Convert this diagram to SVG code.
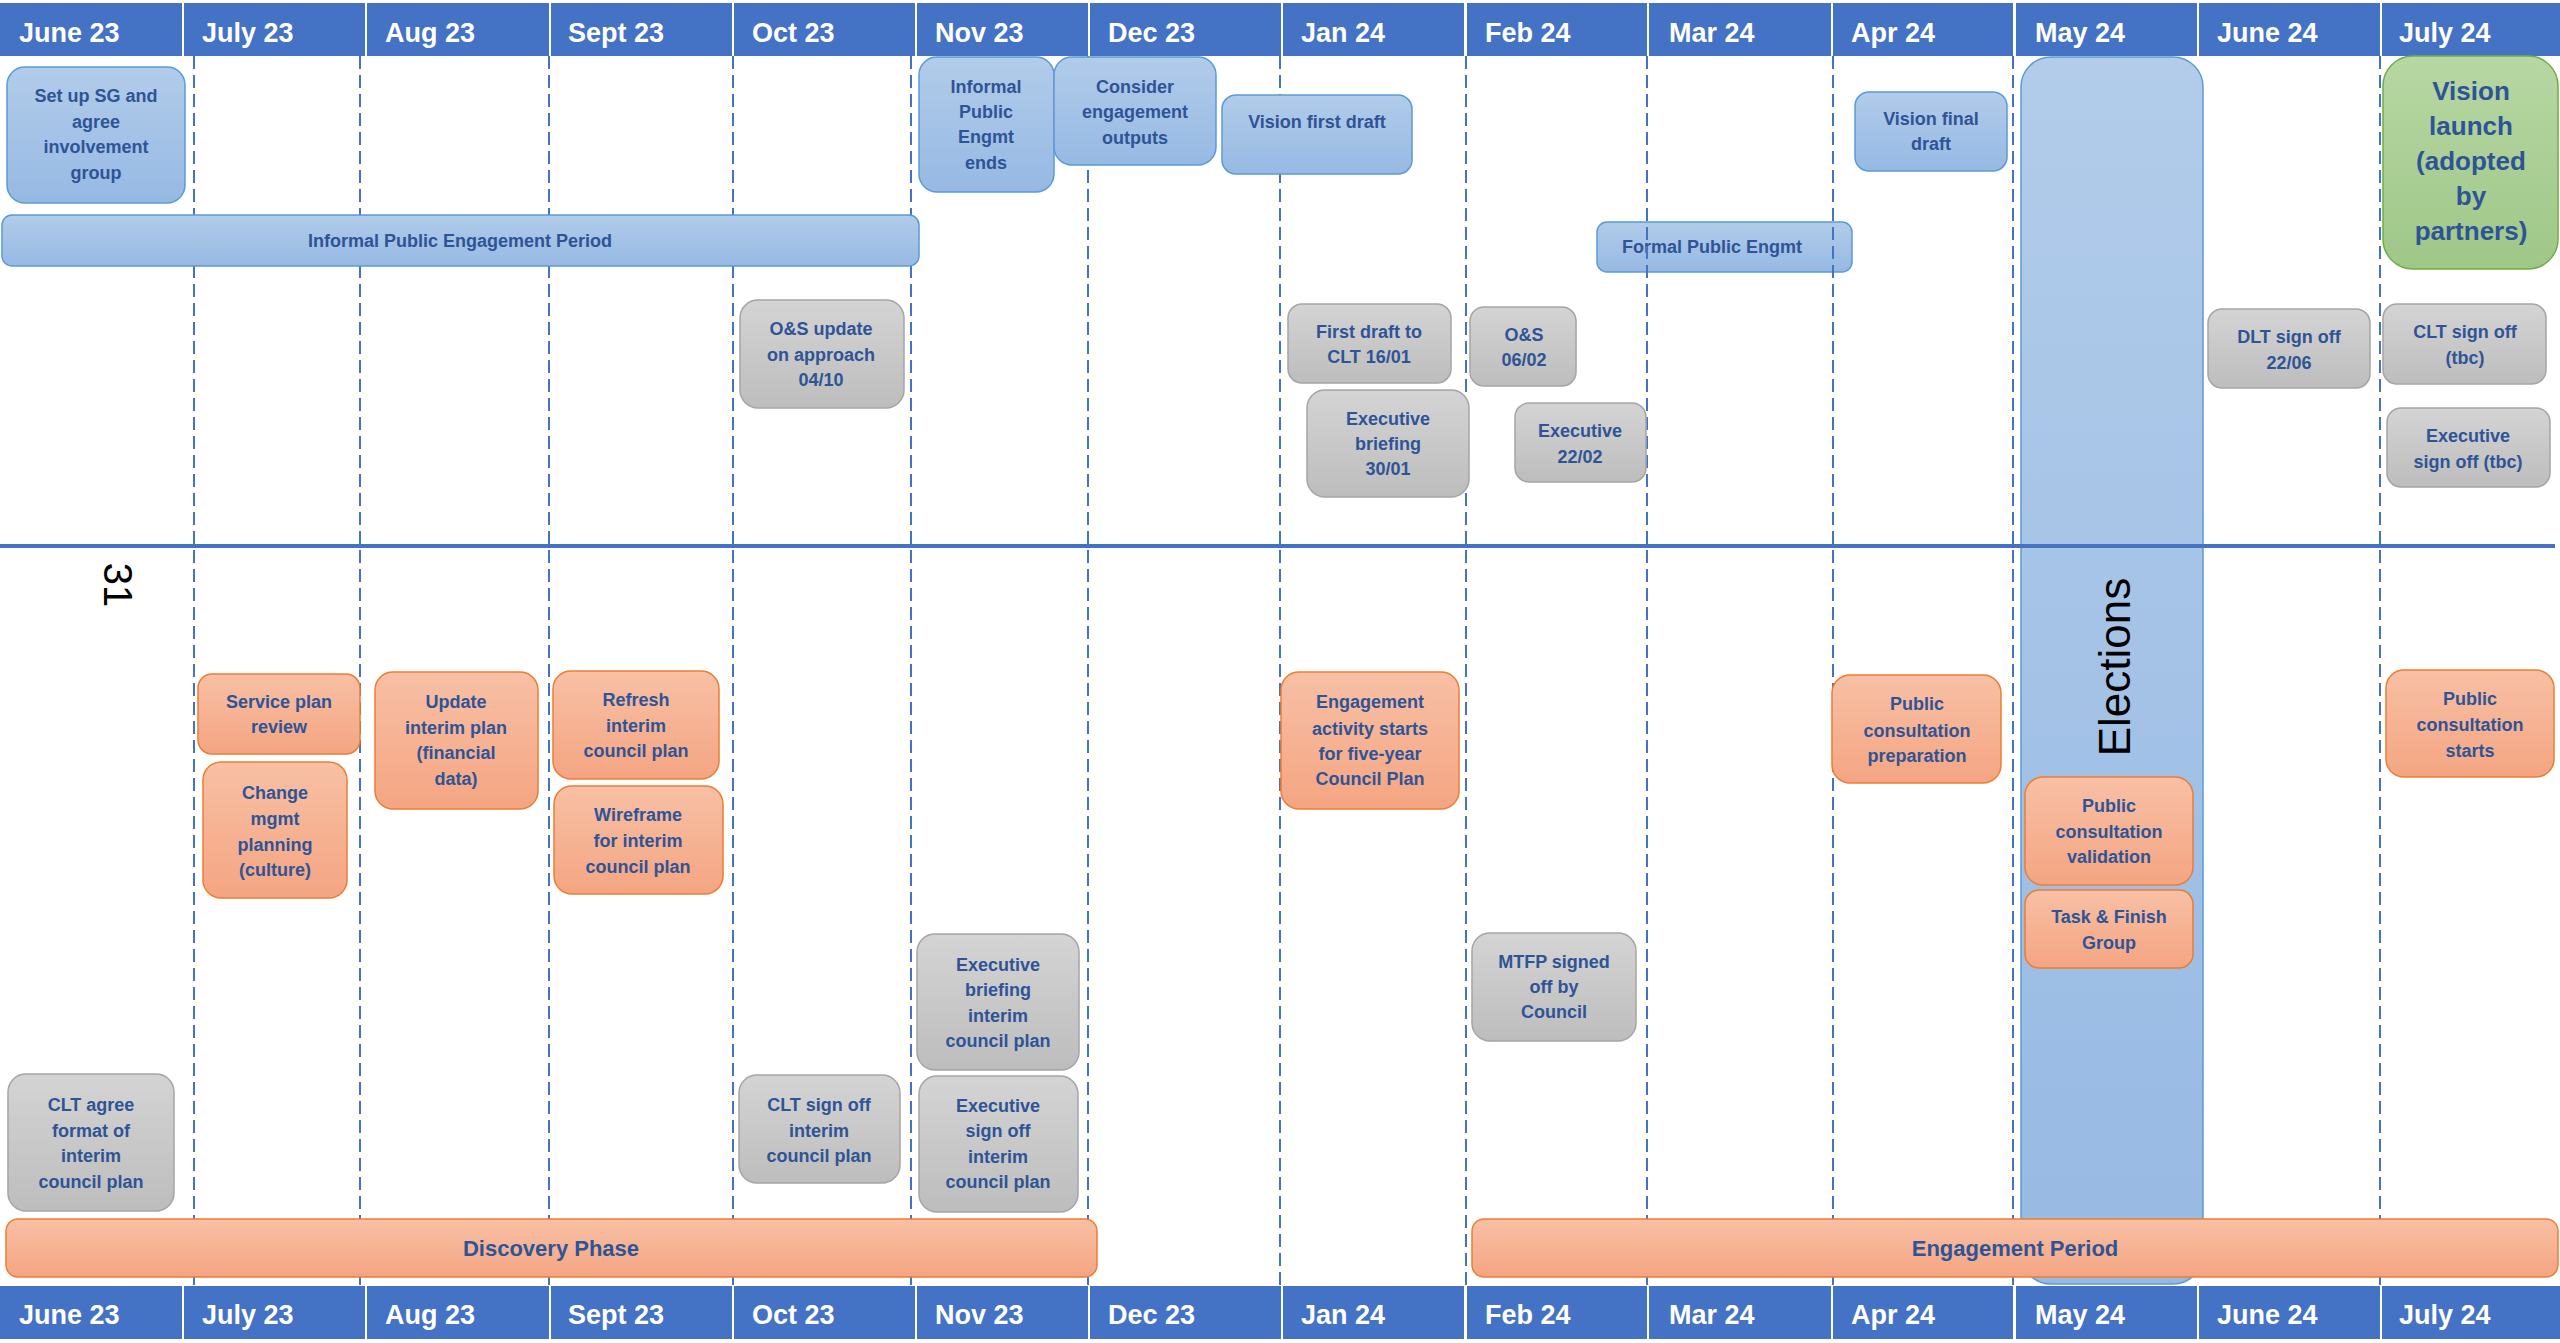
<svg xmlns="http://www.w3.org/2000/svg" width="2560" height="1343" viewBox="0 0 2560 1343">
<defs>
<linearGradient id="gBlue" x1="0" y1="0" x2="0" y2="1"><stop offset="0" stop-color="#B2CCEA"/><stop offset="1" stop-color="#96B9E3"/></linearGradient>
<linearGradient id="gGray" x1="0" y1="0" x2="0" y2="1"><stop offset="0" stop-color="#D4D4D4"/><stop offset="1" stop-color="#BDBDBD"/></linearGradient>
<linearGradient id="gOrange" x1="0" y1="0" x2="0" y2="1"><stop offset="0" stop-color="#F8C0A5"/><stop offset="1" stop-color="#F4A582"/></linearGradient>
<linearGradient id="gGreen" x1="0" y1="0" x2="0" y2="1"><stop offset="0" stop-color="#B7D7A3"/><stop offset="1" stop-color="#9FC788"/></linearGradient>
</defs>
<style>
.hdr{fill:#4472C4}
.ht{font-family:"Liberation Sans",Arial,sans-serif;font-weight:bold;font-size:27px;fill:#FFFFFF}
.blue{fill:url(#gBlue);stroke:#5B9BD5;stroke-width:1.5}
.gray{fill:url(#gGray);stroke:#A5A5A5;stroke-width:1.5}
.orange{fill:url(#gOrange);stroke:#ED7D31;stroke-width:1.5}
.green{fill:url(#gGreen);stroke:#70AD47;stroke-width:1.5}
.t{font-family:"Liberation Sans",Arial,sans-serif;font-weight:bold;font-size:18px;fill:#2F5496;text-anchor:middle}
.tl{font-size:26px}
.tb{font-size:22px}
.dash{stroke:#4472C4;stroke-width:2;stroke-dasharray:13 6;fill:none}
</style>
<rect width="2560" height="1343" fill="#FFFFFF"/>

<g id="header-top">
<rect class="hdr" x="0" y="3" width="182" height="53"/><text class="ht" x="19" y="42">June 23</text>
<rect class="hdr" x="184" y="3" width="181" height="53"/><text class="ht" x="202" y="42">July 23</text>
<rect class="hdr" x="367" y="3" width="182" height="53"/><text class="ht" x="385" y="42">Aug 23</text>
<rect class="hdr" x="551" y="3" width="181" height="53"/><text class="ht" x="568" y="42">Sept 23</text>
<rect class="hdr" x="734" y="3" width="181" height="53"/><text class="ht" x="752" y="42">Oct 23</text>
<rect class="hdr" x="917" y="3" width="171" height="53"/><text class="ht" x="935" y="42">Nov 23</text>
<rect class="hdr" x="1090" y="3" width="191" height="53"/><text class="ht" x="1108" y="42">Dec 23</text>
<rect class="hdr" x="1283" y="3" width="181" height="53"/><text class="ht" x="1301" y="42">Jan 24</text>
<rect class="hdr" x="1467" y="3" width="180" height="53"/><text class="ht" x="1485" y="42">Feb 24</text>
<rect class="hdr" x="1649" y="3" width="182" height="53"/><text class="ht" x="1669" y="42">Mar 24</text>
<rect class="hdr" x="1833" y="3" width="180" height="53"/><text class="ht" x="1851" y="42">Apr 24</text>
<rect class="hdr" x="2016" y="3" width="181" height="53"/><text class="ht" x="2035" y="42">May 24</text>
<rect class="hdr" x="2199" y="3" width="181" height="53"/><text class="ht" x="2217" y="42">June 24</text>
<rect class="hdr" x="2382" y="3" width="178" height="53"/><text class="ht" x="2399" y="42">July 24</text>
</g>

<g id="header-bottom">
<rect class="hdr" x="0" y="1286" width="182" height="53"/><text class="ht" x="19" y="1324">June 23</text>
<rect class="hdr" x="184" y="1286" width="181" height="53"/><text class="ht" x="202" y="1324">July 23</text>
<rect class="hdr" x="367" y="1286" width="182" height="53"/><text class="ht" x="385" y="1324">Aug 23</text>
<rect class="hdr" x="551" y="1286" width="181" height="53"/><text class="ht" x="568" y="1324">Sept 23</text>
<rect class="hdr" x="734" y="1286" width="181" height="53"/><text class="ht" x="752" y="1324">Oct 23</text>
<rect class="hdr" x="917" y="1286" width="171" height="53"/><text class="ht" x="935" y="1324">Nov 23</text>
<rect class="hdr" x="1090" y="1286" width="191" height="53"/><text class="ht" x="1108" y="1324">Dec 23</text>
<rect class="hdr" x="1283" y="1286" width="181" height="53"/><text class="ht" x="1301" y="1324">Jan 24</text>
<rect class="hdr" x="1467" y="1286" width="180" height="53"/><text class="ht" x="1485" y="1324">Feb 24</text>
<rect class="hdr" x="1649" y="1286" width="182" height="53"/><text class="ht" x="1669" y="1324">Mar 24</text>
<rect class="hdr" x="1833" y="1286" width="180" height="53"/><text class="ht" x="1851" y="1324">Apr 24</text>
<rect class="hdr" x="2016" y="1286" width="181" height="53"/><text class="ht" x="2035" y="1324">May 24</text>
<rect class="hdr" x="2199" y="1286" width="181" height="53"/><text class="ht" x="2217" y="1324">June 24</text>
<rect class="hdr" x="2382" y="1286" width="178" height="53"/><text class="ht" x="2399" y="1324">July 24</text>
</g>

<g id="formal-public-engmt">
<rect class="blue" x="1597" y="222" width="255" height="50" rx="10"/>
<text class="t" x="1712" y="253">Formal Public Engmt</text>
</g>

<g id="connectors">
<line class="dash" x1="194" y1="56" x2="194" y2="1286"/>
<line class="dash" x1="360" y1="56" x2="360" y2="1286"/>
<line class="dash" x1="549" y1="56" x2="549" y2="1286"/>
<line class="dash" x1="733" y1="56" x2="733" y2="1286"/>
<line class="dash" x1="911" y1="56" x2="911" y2="1286"/>
<line class="dash" x1="1088" y1="56" x2="1088" y2="1286"/>
<line class="dash" x1="1280" y1="56" x2="1280" y2="1286"/>
<line class="dash" x1="1466" y1="56" x2="1466" y2="1286"/>
<line class="dash" x1="1647" y1="56" x2="1647" y2="1286"/>
<line class="dash" x1="1833" y1="56" x2="1833" y2="1286"/>
<line class="dash" x1="2013" y1="56" x2="2013" y2="1286"/>
<line class="dash" x1="2380" y1="56" x2="2380" y2="1286"/>
</g>

<g id="elections">
<rect class="blue" x="2021" y="57" width="182" height="1227" rx="30"/>
</g>

<g id="divider">
<line x1="0" y1="546" x2="2555" y2="546" stroke="#4472C4" stroke-width="4"/>
</g>

<text id="elections-label" transform="translate(2130,667) rotate(-90)" font-family="'Liberation Sans',Arial,sans-serif" font-size="44" fill="#000000" text-anchor="middle">Elections</text>
<text id="label-31" transform="translate(104,585) rotate(90)" font-family="'Liberation Sans',Arial,sans-serif" font-size="40" fill="#000000" text-anchor="middle">31</text>

<g id="setup-sg">
<rect class="blue" x="7" y="67" width="178" height="136" rx="18"/>
<text class="t"><tspan x="96" y="102">Set up SG and</tspan><tspan x="96" y="128">agree</tspan><tspan x="96" y="153">involvement</tspan><tspan x="96" y="179">group</tspan></text>
</g>

<g id="informal-period">
<rect class="blue" x="2" y="215" width="917" height="51" rx="10"/>
<text class="t" x="460" y="247">Informal Public Engagement Period</text>
</g>

<g id="informal-ends">
<rect class="blue" x="919" y="57" width="135" height="135" rx="18"/>
<text class="t"><tspan x="986" y="93">Informal</tspan><tspan x="986" y="118">Public</tspan><tspan x="986" y="143">Engmt</tspan><tspan x="986" y="169">ends</tspan></text>
</g>

<g id="consider-outputs">
<rect class="blue" x="1054" y="57" width="162" height="108" rx="18"/>
<text class="t"><tspan x="1135" y="93">Consider</tspan><tspan x="1135" y="118">engagement</tspan><tspan x="1135" y="144">outputs</tspan></text>
</g>

<g id="vision-first-draft">
<rect class="blue" x="1222" y="95" width="190" height="79" rx="14"/>
<text class="t" x="1317" y="128">Vision first draft</text>
</g>

<g id="vision-final-draft">
<rect class="blue" x="1855" y="92" width="152" height="79" rx="14"/>
<text class="t"><tspan x="1931" y="125">Vision final</tspan><tspan x="1931" y="150">draft</tspan></text>
</g>

<g id="vision-launch">
<rect class="green" x="2383" y="56" width="175" height="213" rx="30"/>
<text class="t tl"><tspan x="2471" y="100">Vision</tspan><tspan x="2471" y="135">launch</tspan><tspan x="2471" y="170">(adopted</tspan><tspan x="2471" y="205">by</tspan><tspan x="2471" y="240">partners)</tspan></text>
</g>

<g id="os-update">
<rect class="gray" x="740" y="300" width="164" height="108" rx="18"/>
<text class="t"><tspan x="821" y="335">O&amp;S update</tspan><tspan x="821" y="361">on approach</tspan><tspan x="821" y="386">04/10</tspan></text>
</g>

<g id="first-draft-clt">
<rect class="gray" x="1288" y="304" width="163" height="79" rx="14"/>
<text class="t"><tspan x="1369" y="338">First draft to</tspan><tspan x="1369" y="363">CLT 16/01</tspan></text>
</g>

<g id="exec-briefing-3001">
<rect class="gray" x="1307" y="390" width="162" height="107" rx="18"/>
<text class="t"><tspan x="1388" y="425">Executive</tspan><tspan x="1388" y="450">briefing</tspan><tspan x="1388" y="475">30/01</tspan></text>
</g>

<g id="os-0602">
<rect class="gray" x="1470" y="307" width="106" height="79" rx="14"/>
<text class="t"><tspan x="1524" y="341">O&amp;S</tspan><tspan x="1524" y="366">06/02</tspan></text>
</g>

<g id="exec-2202">
<rect class="gray" x="1515" y="403" width="131" height="79" rx="14"/>
<text class="t"><tspan x="1580" y="437">Executive</tspan><tspan x="1580" y="463">22/02</tspan></text>
</g>

<g id="dlt-signoff">
<rect class="gray" x="2208" y="309" width="162" height="79" rx="14"/>
<text class="t"><tspan x="2289" y="343">DLT sign off</tspan><tspan x="2289" y="369">22/06</tspan></text>
</g>

<g id="clt-signoff-tbc">
<rect class="gray" x="2383" y="304" width="163" height="80" rx="14"/>
<text class="t"><tspan x="2465" y="338">CLT sign off</tspan><tspan x="2465" y="364">(tbc)</tspan></text>
</g>

<g id="exec-signoff-tbc">
<rect class="gray" x="2387" y="408" width="163" height="79" rx="14"/>
<text class="t"><tspan x="2468" y="442">Executive</tspan><tspan x="2468" y="468">sign off (tbc)</tspan></text>
</g>

<g id="service-plan">
<rect class="orange" x="198" y="674" width="162" height="80" rx="14"/>
<text class="t"><tspan x="279" y="708">Service plan</tspan><tspan x="279" y="733">review</tspan></text>
</g>

<g id="change-mgmt">
<rect class="orange" x="203" y="762" width="144" height="136" rx="18"/>
<text class="t"><tspan x="275" y="799">Change</tspan><tspan x="275" y="825">mgmt</tspan><tspan x="275" y="851">planning</tspan><tspan x="275" y="876">(culture)</tspan></text>
</g>

<g id="update-interim">
<rect class="orange" x="375" y="672" width="163" height="137" rx="18"/>
<text class="t"><tspan x="456" y="708">Update</tspan><tspan x="456" y="734">interim plan</tspan><tspan x="456" y="759">(financial</tspan><tspan x="456" y="785">data)</tspan></text>
</g>

<g id="refresh-interim">
<rect class="orange" x="553" y="671" width="166" height="108" rx="18"/>
<text class="t"><tspan x="636" y="706">Refresh</tspan><tspan x="636" y="732">interim</tspan><tspan x="636" y="757">council plan</tspan></text>
</g>

<g id="wireframe">
<rect class="orange" x="554" y="786" width="169" height="108" rx="18"/>
<text class="t"><tspan x="638" y="821">Wireframe</tspan><tspan x="638" y="847">for interim</tspan><tspan x="638" y="873">council plan</tspan></text>
</g>

<g id="engagement-activity">
<rect class="orange" x="1281" y="672" width="178" height="137" rx="18"/>
<text class="t"><tspan x="1370" y="708">Engagement</tspan><tspan x="1370" y="735">activity starts</tspan><tspan x="1370" y="760">for five-year</tspan><tspan x="1370" y="785">Council Plan</tspan></text>
</g>

<g id="mtfp">
<rect class="gray" x="1472" y="933" width="164" height="108" rx="18"/>
<text class="t"><tspan x="1554" y="968">MTFP signed</tspan><tspan x="1554" y="993">off by</tspan><tspan x="1554" y="1018">Council</tspan></text>
</g>

<g id="consultation-prep">
<rect class="orange" x="1832" y="675" width="169" height="108" rx="18"/>
<text class="t"><tspan x="1917" y="710">Public</tspan><tspan x="1917" y="737">consultation</tspan><tspan x="1917" y="762">preparation</tspan></text>
</g>

<g id="consultation-validation">
<rect class="orange" x="2025" y="777" width="168" height="108" rx="18"/>
<text class="t"><tspan x="2109" y="812">Public</tspan><tspan x="2109" y="838">consultation</tspan><tspan x="2109" y="863">validation</tspan></text>
</g>

<g id="task-finish">
<rect class="orange" x="2025" y="890" width="168" height="78" rx="14"/>
<text class="t"><tspan x="2109" y="923">Task &amp; Finish</tspan><tspan x="2109" y="949">Group</tspan></text>
</g>

<g id="consultation-starts">
<rect class="orange" x="2386" y="670" width="168" height="107" rx="18"/>
<text class="t"><tspan x="2470" y="705">Public</tspan><tspan x="2470" y="731">consultation</tspan><tspan x="2470" y="757">starts</tspan></text>
</g>

<g id="clt-agree-format">
<rect class="gray" x="8" y="1074" width="166" height="137" rx="18"/>
<text class="t"><tspan x="91" y="1111">CLT agree</tspan><tspan x="91" y="1137">format of</tspan><tspan x="91" y="1162">interim</tspan><tspan x="91" y="1188">council plan</tspan></text>
</g>

<g id="clt-signoff-interim">
<rect class="gray" x="739" y="1075" width="161" height="108" rx="18"/>
<text class="t"><tspan x="819" y="1111">CLT sign off</tspan><tspan x="819" y="1137">interim</tspan><tspan x="819" y="1162">council plan</tspan></text>
</g>

<g id="exec-briefing-interim">
<rect class="gray" x="917" y="934" width="162" height="136" rx="18"/>
<text class="t"><tspan x="998" y="971">Executive</tspan><tspan x="998" y="996">briefing</tspan><tspan x="998" y="1022">interim</tspan><tspan x="998" y="1047">council plan</tspan></text>
</g>

<g id="exec-signoff-interim">
<rect class="gray" x="919" y="1076" width="159" height="136" rx="18"/>
<text class="t"><tspan x="998" y="1112">Executive</tspan><tspan x="998" y="1137">sign off</tspan><tspan x="998" y="1163">interim</tspan><tspan x="998" y="1188">council plan</tspan></text>
</g>

<g id="discovery-phase">
<rect class="orange" x="6" y="1219" width="1091" height="58" rx="12"/>
<text class="t tb" x="551" y="1256">Discovery Phase</text>
</g>

<g id="engagement-period">
<rect class="orange" x="1472" y="1219" width="1086" height="58" rx="12"/>
<text class="t tb" x="2015" y="1256">Engagement Period</text>
</g>
</svg>
